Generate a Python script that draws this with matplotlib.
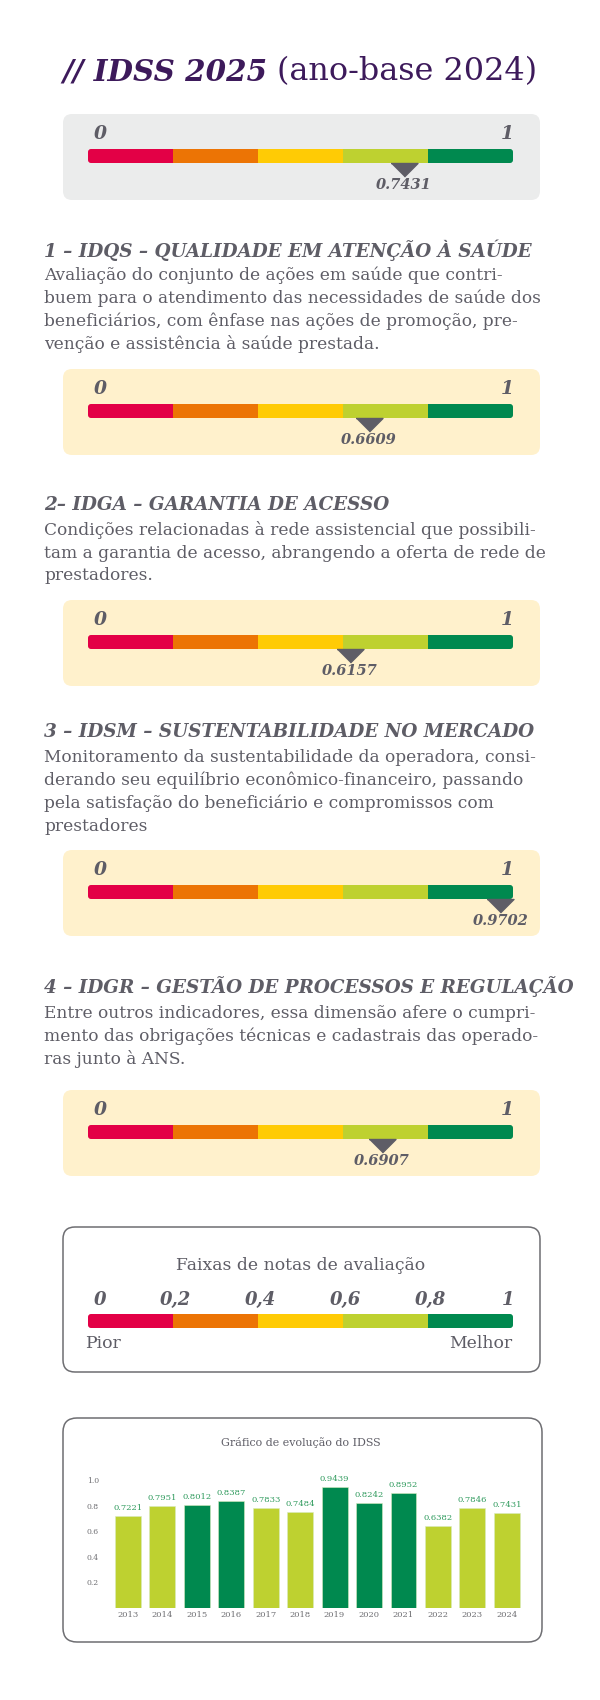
"""IDSS 2025 infographic: score gauges per dimension and yearly evolution bars."""
import numpy as np
import matplotlib
matplotlib.use('Agg')
import matplotlib.pyplot as plt
from matplotlib.patches import FancyBboxPatch

plt.rcParams['font.family'] = ['DejaVu Serif']

# --- data -----------------------------------------------------------------
band_edges = [0.0, 0.2, 0.4, 0.6, 0.8, 1.0]
band_labels = ['0', '0,2', '0,4', '0,6', '0,8', '1']
band_colors = ['#E30046', '#EC7405', '#FFCB05', '#BED130', '#00894F']

overall_score = 0.7431
dim_scores = [0.6609, 0.6157, 0.9702, 0.6907]
dim_titles = [
    '1 – IDQS – QUALIDADE EM ATENÇÃO À SAÚDE',
    '2– IDGA – GARANTIA DE ACESSO',
    '3 – IDSM – SUSTENTABILIDADE NO MERCADO',
    '4 – IDGR – GESTÃO DE PROCESSOS E REGULAÇÃO',
]
dim_texts = [
    ['Avaliação do conjunto de ações em saúde que contri-',
     'buem para o atendimento das necessidades de saúde dos',
     'beneficiários, com ênfase nas ações de promoção, pre-',
     'venção e assistência à saúde prestada.'],
    ['Condições relacionadas à rede assistencial que possibili-',
     'tam a garantia de acesso, abrangendo a oferta de rede de',
     'prestadores.'],
    ['Monitoramento da sustentabilidade da operadora, consi-',
     'derando seu equilíbrio econômico-financeiro, passando',
     'pela satisfação do beneficiário e compromissos com',
     'prestadores'],
    ['Entre outros indicadores, essa dimensão afere o cumpri-',
     'mento das obrigações técnicas e cadastrais das operado-',
     'ras junto à ANS.'],
]

years = ['2013', '2014', '2015', '2016', '2017', '2018',
         '2019', '2020', '2021', '2022', '2023', '2024']
idss = [0.7221, 0.7951, 0.8012, 0.8387, 0.7833, 0.7484,
        0.9439, 0.8242, 0.8952, 0.6382, 0.7846, 0.7431]

# --- style ----------------------------------------------------------------
PURPLE = '#3D1A5B'
GRAY = '#5E5D66'
LIGHT_GRAY = '#6E6E72'
VALUE_GREEN = '#2E9A5C'
BOX_GRAY = '#EBECEC'
BOX_CREAM = '#FFF1CC'
PT = 0.72  # points per pixel at dpi 100

W, H = 600, 1700
fig = plt.figure(figsize=(W / 100, H / 100), dpi=100)
bg = fig.add_axes([0, 0, 1, 1])
bg.set_xlim(0, W)
bg.set_ylim(H, 0)
bg.axis('off')
renderer = fig.canvas.get_renderer()


def px_axes(x, y, w, h):
    return fig.add_axes([x / W, 1 - (y + h) / H, w / W, h / H])


def fit(t, width):
    bb = t.get_window_extent(renderer)
    t.set_fontsize(t.get_fontsize() * width / bb.width)
    return t.get_fontsize()


def rounded(x, y, w, h, r, **kw):
    p = FancyBboxPatch((x, y), w, h, boxstyle=f'round,pad=0,rounding_size={r}', **kw)
    bg.add_patch(p)
    return p


def band_bar(top):
    ax = px_axes(88, top, 425, 14)
    ax.set_xlim(0, 1)
    ax.set_ylim(0, 1)
    ax.axis('off')
    clip = FancyBboxPatch((88, top), 425, 14, boxstyle='round,pad=0,rounding_size=3',
                          transform=bg.transData, fc='none', ec='none')
    bars = ax.barh(0.5, np.diff(band_edges), left=band_edges[:-1], height=1,
                   color=band_colors, linewidth=0)
    for b in bars:
        b.set_clip_path(clip)
    return ax


def gauge(top, value, fill):
    rounded(63, top, 477, 86, 9, fc=fill, ec='none')
    ax = band_bar(top + 35)
    lab = dict(fontsize=13.5, fontweight='bold', style='italic', color=GRAY,
               textcoords='offset points', va='center', xycoords='axes fraction')
    ax.annotate('0', xy=(0, 1), xytext=(6 * PT, 15 * PT), ha='left', **lab)
    ax.annotate('1', xy=(1, 1), xytext=(1 * PT, 15 * PT), ha='right', **lab)
    ax.plot([value], [0], linestyle='none', color=GRAY, clip_on=False,
            marker=[(-1, 0), (1, 0), (0, -1)], markersize=27 * PT)
    ax.annotate(f'{value:.4f}', xy=(value, 0), xytext=(0, -22 * PT),
                textcoords='offset points', ha='center', va='center',
                fontsize=10.5, fontweight='bold', style='italic', color=GRAY)


# --- title ----------------------------------------------------------------
t1 = bg.text(62, 80, '// IDSS 2025', fontsize=24, fontweight='bold', style='italic',
             color=PURPLE, va='baseline')
fit(t1, 205)
t2 = bg.text(277, 80, '(ano-base 2024)', fontsize=24, color=PURPLE, va='baseline')
fit(t2, 261)

gauge(114, overall_score, BOX_GRAY)

# --- dimensions -----------------------------------------------------------
head_y = [250, 505, 732, 987]
body_y = [275, 530, 757, 1013]
box_top = [369, 600, 850, 1090]

probe = bg.text(0, 0, dim_titles[0], fontsize=12, fontweight='bold', style='italic')
head_size = fit(probe, 488)
probe.remove()
probe = bg.text(0, 0, dim_texts[0][1], fontsize=11)
body_size = fit(probe, 493)
probe.remove()

for title, lines, hy, by, bt, score in zip(dim_titles, dim_texts, head_y, body_y,
                                           box_top, dim_scores):
    bg.text(44, hy, title, fontsize=head_size, fontweight='bold', style='italic',
            color=GRAY, va='center', ha='left')
    for k, line in enumerate(lines):
        bg.text(44, by + 23 * k, line, fontsize=body_size, color=GRAY,
                va='center', ha='left')
    gauge(bt, score, BOX_CREAM)

# --- legend of score bands ------------------------------------------------
rounded(63, 1227, 477, 145, 12, fc='white', ec=LIGHT_GRAY, lw=1.1)
lt = bg.text(301, 1265, 'Faixas de notas de avaliação', fontsize=11, color=GRAY,
             ha='center', va='center')
fit(lt, 248)
lax = band_bar(1314)
for e, lab in zip(band_edges, band_labels):
    ha = 'left' if e == 0 else ('right' if e == 1 else 'center')
    dx = 6 if e == 0 else (1 if e == 1 else 2)
    lax.annotate(lab, xy=(e, 1), xytext=(dx * PT, 14 * PT), textcoords='offset points',
                 xycoords=('data', 'axes fraction'), ha=ha, va='center',
                 fontsize=13, fontweight='bold', style='italic', color=GRAY)
lax.annotate('Pior', xy=(0, 0), xycoords='axes fraction', xytext=(-3 * PT, -15 * PT),
             textcoords='offset points', ha='left', va='center', fontsize=lt.get_fontsize(),
             color=GRAY)
lax.annotate('Melhor', xy=(1, 0), xycoords='axes fraction', xytext=(-1 * PT, -15 * PT),
             textcoords='offset points', ha='right', va='center', fontsize=lt.get_fontsize(),
             color=GRAY)

# --- evolution chart ------------------------------------------------------
rounded(63, 1418, 479, 224, 14, fc='white', ec=LIGHT_GRAY, lw=1.1)
ct = bg.text(301, 1442, 'Gráfico de evolução do IDSS', fontsize=8.5, color=GRAY,
             ha='center', va='center')
fit(ct, 159)

cax = px_axes(110.75, 1480, 413.25, 128)
x = np.arange(len(years))
bar_colors = [band_colors[4] if v >= band_edges[4] else band_colors[3] for v in idss]
cax.bar(x, idss, width=0.75, color=bar_colors, edgecolor='#D8EBC0', linewidth=0.4)
for xi, v in zip(x, idss):
    cax.annotate(f'{v:.4f}', xy=(xi, v), xytext=(0, 8 * PT), textcoords='offset points',
                 ha='center', va='center', fontsize=6, color=VALUE_GREEN)
cax.set_xlim(-0.5, len(years) - 0.5)
cax.set_ylim(0, 1.0)
cax.set_yticks([0.2, 0.4, 0.6, 0.8, 1.0])
cax.set_yticklabels(['0.2', '0.4', '0.6', '0.8', '1.0'])
cax.set_xticks(x)
cax.set_xticklabels(years)
cax.tick_params(axis='y', length=0, pad=12 * PT, labelsize=5.5, labelcolor=LIGHT_GRAY)
cax.tick_params(axis='x', length=0, pad=3 * PT, labelsize=6, labelcolor=LIGHT_GRAY)
for s in cax.spines.values():
    s.set_visible(False)
cax.patch.set_visible(False)

fig.savefig('out.png', dpi=100)
